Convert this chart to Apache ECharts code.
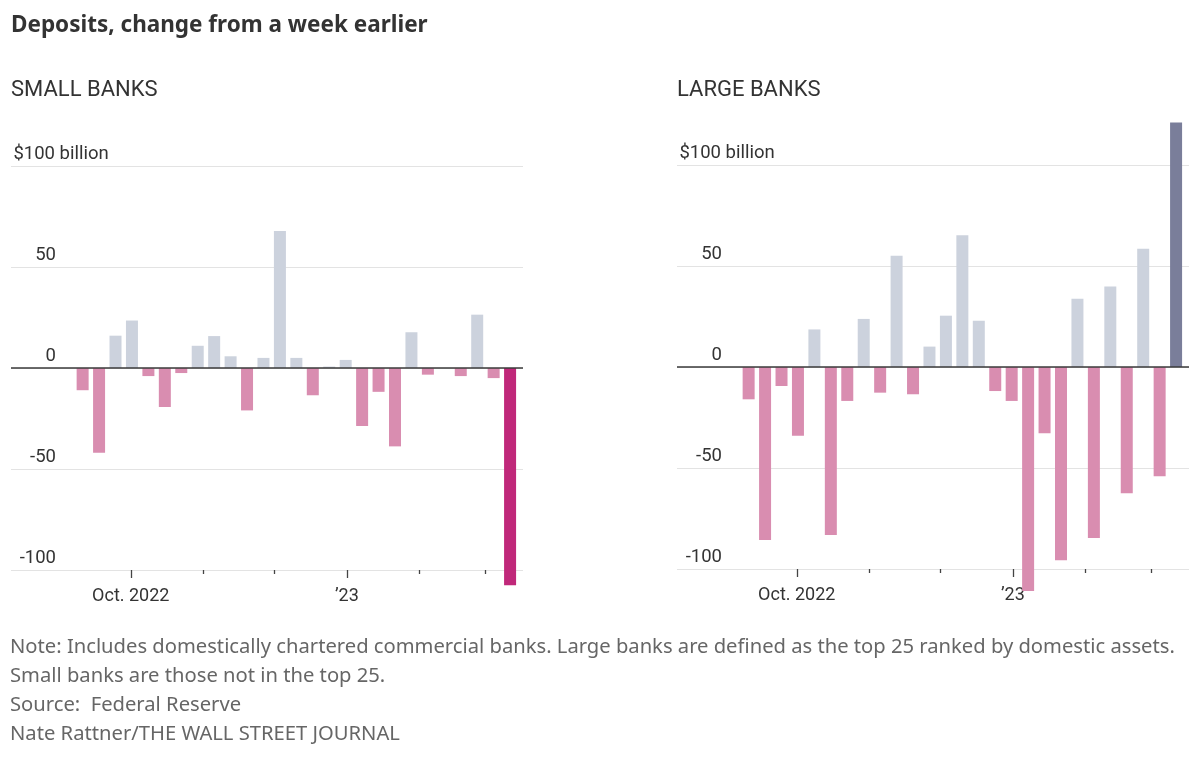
<!DOCTYPE html>
<html>
<head>
<meta charset="utf-8">
<title>Deposits, change from a week earlier</title>
<script src="https://cdn.jsdelivr.net/npm/echarts@6/dist/echarts.min.js"></script>
<style>
    html, body { margin: 0; padding: 0; background: #fff; }
    #chart { width: 1201px; height: 759px; }
</style>
</head>
<body>
<div id="chart"></div>
<script>
// week ending dates (Wednesdays, Fed H.8)
const weeks = [
    "2022-09-14", "2022-09-21", "2022-09-28", "2022-10-05", "2022-10-12", "2022-10-19", "2022-10-26",
    "2022-11-02", "2022-11-09", "2022-11-16", "2022-11-23", "2022-11-30", "2022-12-07", "2022-12-14",
    "2022-12-21", "2022-12-28", "2023-01-04", "2023-01-11", "2023-01-18", "2023-01-25", "2023-02-01",
    "2023-02-08", "2023-02-15", "2023-02-22", "2023-03-01", "2023-03-08", "2023-03-15",
];
// change from a week earlier, $ billion
const smallBanks = [
    -11, -42, 16, 23.5, -4, -19.3, -2.5, 11, 15.8, 5.8, -21, 5, 67.8, 5,
    -13.5, 0.7, 4, -28.7, -11.8, -38.8, 17.7, -3.3, 0, -4, 26.4, -5, -107.6,
];
const largeBanks = [
    -16, -85.6, -9.4, -34, 18.6, -83.2, -16.8, 23.8, -12.7, 55.1, -13.5, 10.1, 25.4, 65.2,
    22.9, -11.9, -16.8, -110.9, -32.8, -95.7, 33.8, -84.7, 39.8, -62.5, 58.6, -54.1, 121.1,
];
const xRange = ["2022-08-11", "2023-03-17"];
const majorTicks = ["2022-10-01", "2023-01-01"];
const majorLabels = ["Oct. 2022", "’23"];
const minorTicks = ["2022-11-01", "2022-12-01", "2023-02-01", "2023-03-01"];
const yTicks = [-100, -50, 0, 50, 100];

const FONT = "Roboto";
const TEXT_FONT = "Noto Sans";
const COLOR_UP = "#ccd2dd",
    COLOR_DOWN = "#d98db0";
const DAY = 24 * 3600 * 1000;

//local midnight
function toTime(s) {
    return new Date(s + "T00:00:00").getTime();
}

//bar sits in the middle of the week it covers
function buildBars(values, lastColor) {
    return weeks.map((w, i) => ({
        value: [toTime(w) - 3.5 * DAY, values[i]],
        itemStyle: {
            color: i == weeks.length - 1 ? lastColor : values[i] >= 0 ? COLOR_UP : COLOR_DOWN,
        },
    }));
}

//top label gets the unit hanging to the right of the number
function yLabel(v) {
    if (v == yTicks[yTicks.length - 1]) return `{n|$${v}}{u| billion}`;
    return `{n|${v}}`;
}

//x axes hold timestamps; kind: "label" | "major" | "minor"
function makeX(gridIndex, kind) {
    const labelTicks = majorTicks.map(toTime);
    const tickValues = (kind == "minor" ? minorTicks : majorTicks).map(toTime);
    return {
        gridIndex: gridIndex,
        type: "value",
        position: "bottom",
        min: toTime(xRange[0]),
        max: toTime(xRange[1]),
        axisLine: { show: false },
        splitLine: { show: false },
        axisTick: {
            show: kind != "label",
            customValues: tickValues,
            length: kind == "major" ? 8 : 4,
            lineStyle: { color: "#444", width: 1.3 },
        },
        axisLabel: {
            show: kind == "label",
            customValues: labelTicks,
            margin: 17,
            fontFamily: FONT,
            fontSize: 18,
            color: "#333",
            formatter: function (value) {
                const idx = labelTicks.indexOf(value);
                return idx >= 0 ? majorLabels[idx] : "";
            },
        },
    };
}

function makeY(gridIndex) {
    const txt = { fontFamily: FONT, fontSize: 18.5, color: "#333", align: "left" };
    return {
        gridIndex: gridIndex,
        type: "value",
        min: yTicks[0],
        max: yTicks[yTicks.length - 1],
        interval: 50,
        axisLine: { show: false },
        axisTick: { show: false },
        splitLine: { lineStyle: { color: "#e3e3e3", width: 1 } },
        axisLabel: {
            inside: true,
            margin: 45,
            align: "right",
            verticalAlign: "bottom",
            padding: [0, 0, 2, 0],
            formatter: yLabel,
            rich: {
                n: txt,
                u: Object.assign({}, txt, { width: 1 }),
            },
        },
    };
}

function makeSeries(idx, values, lastColor) {
    return {
        type: "bar",
        xAxisIndex: idx * 3,
        yAxisIndex: idx,
        barWidth: 12,
        clip: false,
        silent: true,
        data: buildBars(values, lastColor),
        markLine: {
            silent: true,
            symbol: ["none", "none"],
            label: { show: false },
            lineStyle: { color: "#3a3a3a", width: 1.6, type: "solid" },
            data: [{ yAxis: 0 }],
        },
    };
}

var chart = echarts.init(document.getElementById("chart"), null, { renderer: "canvas" });

var option = {
    animation: false,
    backgroundColor: "#fff",
    title: [
        {
            text: "Deposits, change from a week earlier",
            left: 11,
            top: 14,
            padding: 0,
            textStyle: { fontFamily: TEXT_FONT, fontWeight: "bold", fontSize: 22.5, color: "#333" },
        },
        {
            text: "SMALL BANKS",
            left: 11,
            top: 79,
            padding: 0,
            textStyle: { fontFamily: FONT, fontWeight: "normal", fontSize: 22, color: "#333" },
        },
        {
            text: "LARGE BANKS",
            left: 677,
            top: 79,
            padding: 0,
            textStyle: { fontFamily: FONT, fontWeight: "normal", fontSize: 22, color: "#333" },
        },
        {
            text: [
                "Note: Includes domestically chartered commercial banks. Large banks are defined as the top 25 ranked by domestic assets.",
                "Small banks are those not in the top 25.",
                "Source:  Federal Reserve",
                "Nate Rattner/THE WALL STREET JOURNAL",
            ].join("\n"),
            left: 10,
            top: 633,
            padding: 0,
            textStyle: { fontFamily: TEXT_FONT, fontWeight: "normal", fontSize: 20.2, lineHeight: 29, color: "#666" },
        },
    ],
    grid: [
        { left: 11, right: 678, top: 166, bottom: 189 },
        { left: 677, right: 12, top: 165, bottom: 190 },
    ],
    xAxis: [
        makeX(0, "label"), makeX(0, "major"), makeX(0, "minor"),
        makeX(1, "label"), makeX(1, "major"), makeX(1, "minor"),
    ],
    yAxis: [makeY(0), makeY(1)],
    series: [makeSeries(0, smallBanks, "#c0287a"), makeSeries(1, largeBanks, "#7a7e9a")],
};

chart.setOption(option);
</script>
</body>
</html>
